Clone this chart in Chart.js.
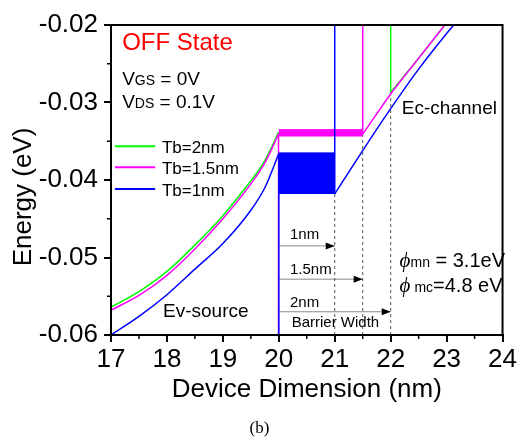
<!DOCTYPE html>
<html>
<head>
<meta charset="utf-8">
<script src="https://cdn.jsdelivr.net/npm/chart.js@4.4.1/dist/chart.umd.min.js"></script>
<style>
  html, body { margin: 0; padding: 0; background: #fff; }
  canvas { display: block; }
</style>
</head>
<body>
<canvas id="c" width="519" height="439"></canvas>
<script>
// --- Data ---------------------------------------------------------------

const xTicks = [17, 18, 19, 20, 21, 22, 23, 24];
const yTicks = [-0.06, -0.05, -0.04, -0.03, -0.02];

const tbLabels = ["Tb=2nm", "Tb=1.5nm", "Tb=1nm"];
const tbColors = ["#00ff00", "#ff00ff", "#0000ff"];

// Ev-source side
const xSource = [17, 17.5, 18, 18.5, 19, 19.5, 19.75, 20];
const evGreen = [-0.0564, -0.0544, -0.0518, -0.0484, -0.0446, -0.0401, -0.0375, -0.0338];
const evPink  = [-0.0568, -0.0549, -0.0523, -0.0489, -0.0450, -0.0405, -0.0378, -0.0340];
const evBlue  = [-0.0600, -0.0576, -0.0548, -0.0515, -0.0482, -0.0439, -0.0410, -0.0366];

// Ec-channel side
const xChGreen = [22, 22.5, 23];
const ecGreen  = [-0.0287, -0.0243, -0.0197];
const xChPink  = [21.5, 22, 22.5, 23];
const ecPink   = [-0.0341, -0.0289, -0.0243, -0.0197];
const xChBlue  = [21, 21.5, 22, 22.5, 23, 23.2];
const ecBlue   = [-0.0418, -0.0362, -0.0308, -0.0257, -0.0211, -0.0194];

// barrier blocks: [top, bottom]
const pinkBar   = [-0.0335, -0.0344];
const blueBlock = [-0.0365, -0.0418];

// barrier width arrows
const arrowY = [-0.0485, -0.0528, -0.0570];
const arrowEnd = [21, 21.5, 22];
const arrowLabels = ["1nm", "1.5nm", "2nm"];

// --- Helpers ------------------------------------------------------------

const FONT = "'Liberation Sans', Arial, sans-serif";
const pts = (xs, ys) => xs.map((x, i) => ({ x, y: ys[i] }));
const vline = (x, y0, y1) => [{ x, y: y0 }, { x, y: y1 }];

function line(data, color, extra = {}) {
  return Object.assign({
    data, borderColor: color, borderWidth: 1.5, pointRadius: 0,
    fill: false, tension: 0,
  }, extra);
}
const curve = { cubicInterpolationMode: "monotone" };

// Chart.js paints dataset 0 last, so the list runs from top layer to bottom.
const datasets = [
  // Tb = 1nm (top)
  line(pts(xSource, evBlue), tbColors[2], curve),
  line(vline(20, -0.061, blueBlock[0]), tbColors[2]),
  line([{ x: 20, y: blueBlock[0] }, { x: 21, y: blueBlock[0] }], tbColors[2], {
    borderWidth: 1,
    fill: { target: { value: blueBlock[1] }, above: tbColors[2], below: tbColors[2] },
  }),
  line(vline(21, blueBlock[1], -0.019), tbColors[2]),
  line(pts(xChBlue, ecBlue), tbColors[2], curve),
  // Tb = 1.5nm
  line(pts(xSource, evPink), tbColors[1], curve),
  line(vline(19.995, -0.061, evPink[evPink.length - 1]), tbColors[1]),
  line([{ x: 20, y: pinkBar[0] }, { x: 21.5, y: pinkBar[0] }], tbColors[1], {
    borderWidth: 1,
    fill: { target: { value: pinkBar[1] }, above: tbColors[1], below: tbColors[1] },
  }),
  line(vline(21.5, ecPink[0], -0.019), tbColors[1]),
  line(pts(xChPink, ecPink), tbColors[1], curve),
  // Tb = 2nm
  line(pts(xSource, evGreen), tbColors[0], curve),
  line(vline(22, ecGreen[0], -0.019), tbColors[0]),
  line(pts(xChGreen, ecGreen), tbColors[0], curve),
  // dotted guides
  line(vline(21, -0.06, blueBlock[1]), "#555", { borderWidth: 1, borderDash: [3, 3] }),
  line(vline(21.5, -0.06, ecPink[0]), "#555", { borderWidth: 1, borderDash: [3, 3] }),
  line(vline(22, -0.06, ecGreen[0]), "#555", { borderWidth: 1, borderDash: [3, 3] }),
  // arrows
  ...arrowY.map((y, i) => line([{ x: 20, y }, { x: arrowEnd[i], y }], "#888", { borderWidth: 1 })),
];

// --- Decorations --------------------------------------------------------

function runs(ctx, x, y, parts) {
  for (const [t, font, color] of parts) {
    ctx.font = font;
    ctx.fillStyle = color || "#000";
    ctx.fillText(t, x, y);
    x += ctx.measureText(t).width;
  }
}

const deco = {
  id: "deco",
  beforeDraw(chart) {
    const { ctx } = chart;
    ctx.save();
    ctx.fillStyle = "#fff";
    ctx.fillRect(0, 0, chart.width, chart.height);
    ctx.restore();
  },
  afterDraw(chart) {
    const { ctx, chartArea: a } = chart;
    const xs = chart.scales.x, ys = chart.scales.y;
    const X = (v) => xs.getPixelForValue(v), Y = (v) => ys.getPixelForValue(v);
    ctx.save();

    // frame
    ctx.strokeStyle = "#000";
    ctx.lineWidth = 2;
    ctx.strokeRect(a.left, a.top, a.right - a.left, a.bottom - a.top);

    // minor ticks
    ctx.lineWidth = 1.5;
    ctx.beginPath();
    for (let v = 17.5; v < 24; v += 1) {
      ctx.moveTo(X(v), a.bottom); ctx.lineTo(X(v), a.bottom + 4);
    }
    for (let v = -0.055; v < -0.02; v += 0.01) {
      ctx.moveTo(a.left, Y(v)); ctx.lineTo(a.left - 4, Y(v));
    }
    ctx.stroke();

    // arrowheads
    ctx.fillStyle = "#000";
    arrowY.forEach((y, i) => {
      const px = X(arrowEnd[i]), py = Y(y);
      ctx.beginPath();
      ctx.moveTo(px, py);
      ctx.lineTo(px - 9, py - 3.5);
      ctx.lineTo(px - 9, py + 3.5);
      ctx.closePath();
      ctx.fill();
    });

    ctx.textAlign = "left";
    ctx.textBaseline = "alphabetic";

    // legend
    const legendY = [-0.03563, -0.03834, -0.04117];
    tbLabels.forEach((lab, i) => {
      const py = Y(legendY[i]);
      ctx.strokeStyle = tbColors[i];
      ctx.lineWidth = 2;
      ctx.beginPath();
      ctx.moveTo(X(17.07), py); ctx.lineTo(X(17.79), py);
      ctx.stroke();
      ctx.font = `17px ${FONT}`;
      ctx.fillStyle = "#000";
      ctx.fillText(lab, X(17.91), py + 6.5);
    });

    // annotations
    const big = `19px ${FONT}`, small = `14px ${FONT}`;
    runs(ctx, X(17.2), Y(-0.02326), [["OFF State", `24px ${FONT}`, "#ff0000"]]);
    runs(ctx, X(17.2), Y(-0.02777), [["V", big], ["GS", small], [" = 0V", big]]);
    runs(ctx, X(17.2), Y(-0.03073), [["V", big], ["DS", small], [" = 0.1V", big]]);
    runs(ctx, X(22.2), Y(-0.03151), [["Ec-channel", big]]);
    runs(ctx, X(17.93), Y(-0.05767), [["Ev-source", big]]);
    const lblY = [-0.04762, -0.05213, -0.05638];
    arrowLabels.forEach((t, i) => runs(ctx, X(20.2), Y(lblY[i]), [[t, `15px ${FONT}`]]));
    runs(ctx, X(20.23), Y(-0.05896), [["Barrier Width", `15px ${FONT}`]]);
    const phi = "italic 21px 'Liberation Serif', 'DejaVu Serif', serif";
    runs(ctx, X(22.16), Y(-0.05122), [["ϕ", phi], ["mn", small], [" = 3.1eV", `20px ${FONT}`]]);
    runs(ctx, X(22.16), Y(-0.05445), [["ϕ", phi], [" mc", small], ["=4.8 eV", `20px ${FONT}`]]);

    // axis titles
    ctx.fillStyle = "#000";
    ctx.font = `26px ${FONT}`;
    ctx.textAlign = "center";
    ctx.fillText("Device Dimension (nm)", (a.left + a.right) / 2, a.bottom + 62);
    ctx.save();
    ctx.translate(a.left - 87, (a.top + a.bottom) / 2 + 17);
    ctx.rotate(-Math.PI / 2);
    ctx.textBaseline = "middle";
    ctx.fillText("Energy (eV)", 0, 0);
    ctx.restore();

    // caption
    ctx.font = "17px 'Liberation Serif', 'Times New Roman', serif";
    ctx.fillText("(b)", chart.width / 2, chart.height - 6);

    ctx.restore();
  },
};

// --- Chart --------------------------------------------------------------

new Chart(document.getElementById("c"), {
  type: "line",
  data: { datasets },
  plugins: [deco],
  options: {
    responsive: false,
    animation: false,
    layout: { padding: { top: 25, right: 16, left: 0, bottom: 0 } },
    plugins: { legend: { display: false }, tooltip: { enabled: false } },
    scales: {
      x: {
        type: "linear", min: xTicks[0], max: xTicks[xTicks.length - 1],
        afterFit: (s) => { s.height = 104; },
        afterBuildTicks: (s) => { s.ticks = xTicks.map((value) => ({ value })); },
        grid: { drawOnChartArea: false, drawTicks: true, tickLength: 7, color: "#000", lineWidth: 2 },
        border: { display: true, color: "#000", width: 2 },
        ticks: { color: "#000", font: { family: FONT, size: 26 }, padding: 2, maxRotation: 0 },
      },
      y: {
        type: "linear", min: yTicks[0], max: yTicks[yTicks.length - 1],
        afterFit: (s) => { s.width = 111; },
        afterBuildTicks: (s) => { s.ticks = yTicks.map((value) => ({ value })); },
        grid: { drawOnChartArea: false, drawTicks: true, tickLength: 7, color: "#000", lineWidth: 2 },
        border: { display: true, color: "#000", width: 2 },
        ticks: { color: "#000", font: { family: FONT, size: 26 }, padding: 6, callback: (v) => v.toFixed(2) },
      },
    },
  },
});
</script>
</body>
</html>
